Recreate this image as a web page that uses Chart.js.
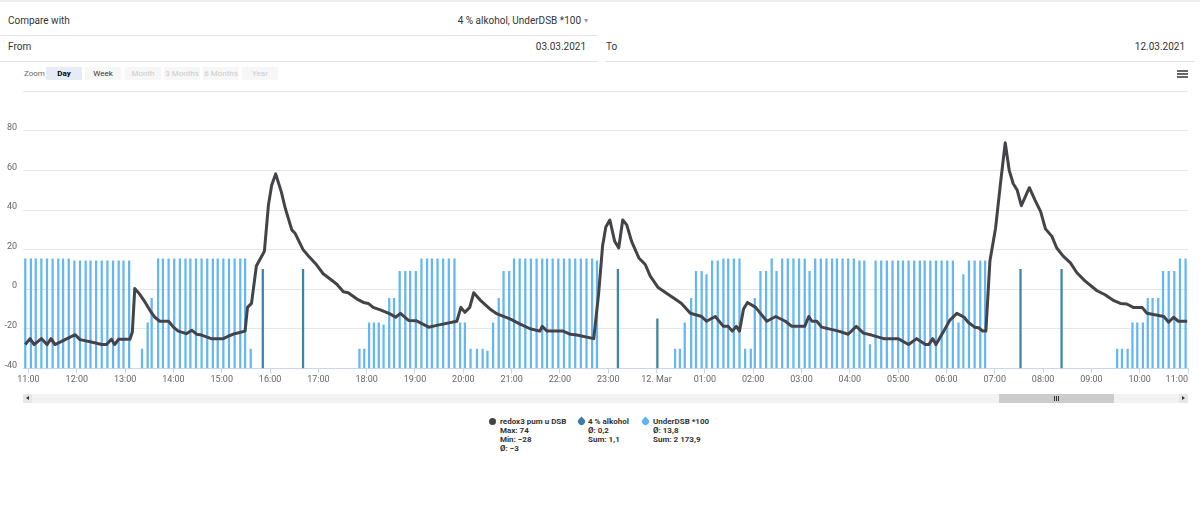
<!DOCTYPE html>
<html>
<head>
<meta charset="utf-8">
<script src="https://cdn.jsdelivr.net/npm/chart.js@4.4.0/dist/chart.umd.min.js"></script>
<style>
  body { margin: 0; width: 1200px; height: 508px; background: #fff; position: relative; overflow: hidden;
         font-family: Roboto, "Noto Sans", sans-serif; color: #333; }
  .abs { position: absolute; white-space: nowrap; }
  .txt { font-size: 10px; line-height: 12px; }
  .sep { position: absolute; height: 1px; background: #e3e3e3; }
  .btn { position: absolute; top: 67px; height: 13px; line-height: 13px; font-size: 8px; text-align: center; background: #f7f7f7; color: #ccc; }
  .leg { position: absolute; font-size: 8px; line-height: 9px; font-weight: bold; color: #333; }
  .drop { position: absolute; width: 7px; height: 7px; border-radius: 50% 0 50% 50%; transform: rotate(-45deg); }
</style>
</head>
<body>
<div class="abs" style="left:0;top:0;width:1200px;height:2px;background:#ededed"></div>

<div class="abs txt" style="left:8px;top:15px">Compare with</div>
<div class="abs txt" style="right:619px;top:15px">4 % alkohol, UnderDSB *100</div>
<div class="abs" style="left:584px;top:16px;font-size:8px;color:#999">&#9662;</div>
<div class="sep" style="left:0;top:35px;width:598px"></div>

<div class="abs txt" style="left:8px;top:41px">From</div>
<div class="abs txt" style="right:614px;top:41px">03.03.2021</div>
<div class="sep" style="left:0;top:61px;width:598px"></div>
<div class="abs txt" style="left:606px;top:41px">To</div>
<div class="abs txt" style="right:15px;top:41px">12.03.2021</div>
<div class="sep" style="left:605px;top:61px;width:590px"></div>

<div class="abs" style="left:24px;top:69px;font-size:8px;color:#666">Zoom</div>
<div class="btn" style="left:46px;width:36px;background:#e6ebf5;color:#000;font-weight:bold">Day</div>
<div class="btn" style="left:85px;width:36px;color:#333">Week</div>
<div class="btn" style="left:125px;width:36px">Month</div>
<div class="btn" style="left:164px;width:36px">3 Months</div>
<div class="btn" style="left:203px;width:36px">6 Months</div>
<div class="btn" style="left:242px;width:36px">Year</div>
<div class="abs" style="left:1177px;top:70px;width:11px;height:2px;background:#666"></div>
<div class="abs" style="left:1177px;top:73px;width:11px;height:2px;background:#666"></div>
<div class="abs" style="left:1177px;top:76px;width:11px;height:2px;background:#666"></div>

<canvas id="chart" width="1200" height="310" style="position:absolute;left:0;top:80px"></canvas>

<!-- navigator scrollbar -->
<div class="abs" style="left:23px;top:394px;width:1165px;height:9px;background:#f2f2f2"></div>
<div class="abs" style="left:23px;top:394px;width:9px;height:9px;background:#e6e6e6"></div>
<div class="abs" style="left:26px;top:396px;width:0;height:0;border-top:2.5px solid transparent;border-bottom:2.5px solid transparent;border-right:3px solid #333"></div>
<div class="abs" style="left:999px;top:394px;width:115px;height:9px;background:#cccccc"></div>
<div class="abs" style="left:1054px;top:396px;width:1px;height:5px;background:#333"></div>
<div class="abs" style="left:1056px;top:396px;width:1px;height:5px;background:#333"></div>
<div class="abs" style="left:1058px;top:396px;width:1px;height:5px;background:#333"></div>
<div class="abs" style="left:1179px;top:394px;width:9px;height:9px;background:#e6e6e6"></div>
<div class="abs" style="left:1182px;top:396px;width:0;height:0;border-top:2.5px solid transparent;border-bottom:2.5px solid transparent;border-left:3px solid #333"></div>

<!-- legend -->
<div class="abs" style="left:489px;top:417.5px;width:7px;height:7px;border-radius:50%;background:#434348"></div>
<div class="leg" style="left:500px;top:416.5px">redox3 pum u DSB<br>Max: 74<br>Min: &minus;28<br>&Oslash;: &minus;3</div>
<div class="drop" style="left:578px;top:418px;background:#3a809f"></div>
<div class="leg" style="left:588px;top:416.5px">4 % alkohol<br>&Oslash;: 0,2<br>Sum: 1,1</div>
<div class="drop" style="left:642px;top:418px;background:#5fb3ef"></div>
<div class="leg" style="left:653px;top:416.5px">UnderDSB *100<br>&Oslash;: 13,8<br>Sum: 2&nbsp;173,9</div>

<script>
var ctx = document.getElementById("chart");

// x values are minutes after 11 Mar 11:00
var hourLabels = ["11:00", "12:00", "13:00", "14:00", "15:00", "16:00", "17:00", "18:00", "19:00",
  "20:00", "21:00", "22:00", "23:00", "12. Mar", "01:00", "02:00", "03:00", "04:00", "05:00",
  "06:00", "07:00", "08:00", "09:00", "10:00", "11:00"];
var yTicks = [-40, -20, 0, 20, 40, 60, 80, 100];

var redoxTimes = [-4, 2, 7, 16, 23, 28, 33, 58, 64, 78, 91, 97, 103, 107, 112, 126, 129, 132, 138, 145,
  151, 157, 163, 174, 180, 186, 196, 203, 209, 215, 227, 242, 248, 256, 269, 272, 277, 283, 293, 298,
  302, 307, 314, 319, 327, 331, 341, 348, 358, 366, 375, 383, 391, 397, 408, 416, 422, 428, 437, 449,
  456, 462, 472, 482, 497, 507, 532, 537, 542, 548, 553, 561, 573, 582, 598, 610, 623, 635, 638, 644,
  664, 673, 681, 702, 708, 713, 717, 722, 728, 733, 738, 743, 749, 758, 766, 772, 782, 791, 803, 811,
  822, 836, 842, 853, 863, 869, 874, 879, 883, 888, 893, 903, 917, 928, 940, 948, 964, 969, 973, 979,
  985, 1006, 1018, 1028, 1037, 1047, 1062, 1080, 1093, 1103, 1114, 1118, 1123, 1127, 1136, 1144, 1153, 1162, 1167, 1175,
  1180, 1185, 1189, 1194, 1201, 1207, 1213, 1218, 1223, 1228, 1233, 1243, 1250, 1257, 1263, 1271, 1277, 1285, 1294, 1302,
  1312, 1327, 1337, 1348, 1356, 1364, 1372, 1383, 1389, 1410, 1416, 1422, 1428, 1439];
var redoxValues = [-28, -25, -28, -25, -28, -25, -28, -23, -25.5, -26.7, -28, -28, -25.3, -28, -25.3, -25.3, -21.7, 0.3, -2.5, -6.7,
  -10.8, -14.2, -16.2, -16.2, -19.2, -21.2, -22.5, -20.8, -22.8, -23.2, -25, -25, -23.8, -22.5, -21.2, -9.2, -7.2, 11.7, 19.2, 42.5,
  52.5, 58.3, 49.2, 40.8, 30, 28.3, 20, 16.7, 12.2, 7.8, 5, 2.5, -1.3, -1.8, -5, -6.7, -7.2, -9.2, -10.5, -12.5,
  -14.2, -12.2, -15.8, -16, -19.2, -18.3, -16.2, -9.2, -11.7, -9.2, -1.8, -5.5, -10, -12.5, -15, -17.5, -20, -21.2, -18.8, -21.2,
  -21.2, -22.8, -23.2, -25, -2.5, 22, 31.5, 35, 24.2, 20.8, 35, 32.5, 24.2, 15.8, 12.5, 6.7, 0.8, -1.7, -5, -7.2,
  -12.2, -13.8, -16.2, -13.8, -18.8, -18.8, -21.2, -18.8, -21.2, -10, -6.7, -9.2, -16.2, -13.8, -16.2, -18.8, -18.8, -13.8, -16.2, -16.2,
  -19.2, -21.2, -22.8, -18.8, -22.2, -23.2, -25, -25, -28, -25, -28, -28, -25, -28, -21.7, -15.8, -12.2, -14.2, -16.7, -19.2,
  -19.5, -21.2, -21.2, 14.2, 30.8, 53, 74, 60, 53.3, 50, 42.2, 51.3, 45, 39.2, 30.5, 26.7, 20.8, 16.7, 13.3, 8.3,
  4.2, -0.8, -2.8, -5.8, -7.2, -7.5, -9.2, -9.2, -12.2, -13.8, -16.7, -14.2, -16.2, -16.2];

var alcTimes = [291, 341, 732, 781, 1232, 1283];
var alcValues = [0.2, 0.2, 0.2, 0.1, 0.2, 0.2];

var underTimes = [
  -4, 3, 9, 16, 23, 30, 37, 43, 50, 57, 64, 71, 77, 84, 91, 98, 105, 112, 118, 125,
  141, 148, 153, 161, 167, 174, 181, 188, 195, 201, 208, 215, 222, 229, 235, 242, 249, 256, 263, 269, 276,
  411, 417, 423, 429, 435, 441, 448, 454, 461, 468, 474, 481,
  488, 495, 501, 508, 515, 522, 529,
  536, 542, 549, 557, 564, 570, 577, 584, 590, 597,
  603, 610, 617, 624, 631, 638, 644, 651, 658, 665, 672, 679, 686, 693, 700, 706,
  803, 809, 815, 823, 829, 836, 842, 849, 856, 863, 869, 876, 883,
  890, 897, 902, 909, 916, 923, 929, 936, 943, 950, 957, 964, 970,
  977, 984, 991, 998, 1004, 1011, 1018, 1025, 1032, 1038, 1045,
  1052, 1059, 1066, 1073, 1080, 1086, 1093, 1100, 1107, 1113, 1120, 1127, 1134, 1141, 1148,
  1155, 1161, 1168, 1175, 1182, 1188,
  1352, 1358, 1365, 1371, 1377, 1384, 1390, 1396, 1403, 1409, 1416, 1423, 1430, 1437];
var underValues = [
  16.6, 16.6, 16.6, 16.6, 16.6, 16.6, 16.6, 16.6, 16.6, 16.3, 16.3, 16.3, 16.3, 16.3, 16.3, 16.3, 16.3, 16.3, 16.3, 16.3,
  2.9, 6.9, 10.6, 16.6, 16.6, 16.6, 16.6, 16.6, 16.6, 16.6, 16.6, 16.6, 16.6, 16.6, 16.6, 16.6, 16.6, 16.6, 16.6, 16.6, 2.9,
  2.9, 2.9, 6.9, 6.9, 6.9, 6.6, 10.6, 10.6, 14.7, 14.7, 14.7, 14.7,
  16.6, 16.6, 16.6, 16.6, 16.6, 16.6, 16.6,
  6.9, 6.9, 2.9, 2.9, 2.9, 2.6, 6.9, 10.6, 14.7, 14.7,
  16.6, 16.6, 16.6, 16.6, 16.6, 16.6, 16.6, 16.6, 16.6, 16.6, 16.6, 16.6, 16.6, 16.6, 16.6, 16.3,
  2.9, 2.9, 6.9, 10.6, 14.7, 14.7, 14.2, 16.3, 16.3, 16.6, 16.6, 16.6, 16.6,
  2.9, 2.9, 10.6, 14.7, 14.7, 16.6, 14.7, 16.6, 16.6, 16.6, 16.6, 16.6, 14.7,
  16.6, 16.6, 16.6, 16.6, 16.6, 16.6, 16.6, 16.6, 16.3, 16.3, 3.6,
  16.3, 16.3, 16.3, 16.3, 16.3, 16.3, 16.3, 16.3, 16.3, 16.3, 16.3, 16.3, 16.3, 16.3, 16.3,
  6.9, 14.2, 16.3, 16.3, 16.3, 16.3,
  2.9, 2.9, 2.9, 6.9, 6.9, 6.9, 10.6, 10.6, 10.6, 14.7, 14.7, 14.7, 16.6, 16.6];

var xMin = -6.8;
var xMax = 1440;

function points(xs, ys) {
  return xs.map(function (x, i) { return { x: x, y: ys[i] }; });
}

var xTicks = [xMin].concat(hourLabels.map(function (l, i) { return i * 60; }));

var myChart = new Chart(ctx, {
  type: "bar",
  data: {
    datasets: [
      {
        type: "line",
        label: "redox3 pum u DSB",
        data: points(redoxTimes, redoxValues),
        borderColor: "#434348",
        borderWidth: 3,
        borderJoinStyle: "round",
        pointRadius: 0,
        tension: 0,
        yAxisID: "y",
        order: 0,
      },
      {
        label: "4 % alkohol",
        data: points(alcTimes, alcValues),
        backgroundColor: "#3f84a2",
        barThickness: 1.6,
        grouped: false,
        yAxisID: "yAlc",
        order: 1,
      },
      {
        label: "UnderDSB *100",
        data: points(underTimes, underValues),
        backgroundColor: "#66b7f1",
        barThickness: 1.6,
        grouped: false,
        yAxisID: "yUnder",
        order: 2,
      },
    ],
  },
  options: {
    responsive: false,
    animation: false,
    layout: { padding: { left: 0, right: 12, top: 8.3, bottom: 0 } },
    plugins: {
      legend: { display: false },
      tooltip: { enabled: false },
    },
    scales: {
      x: {
        type: "linear",
        min: xMin,
        max: xMax,
        offset: false,
        afterBuildTicks: function (s) { s.ticks = xTicks.map(function (v) { return { value: v }; }); },
        afterFit: function (s) { s.height = 21.7; },
        ticks: {
          autoSkip: false,
          maxRotation: 0,
          align: "inner",
          padding: 1,
          color: "#666",
          font: { size: 9, family: "Roboto" },
          callback: function (v, i) { return i === 0 ? "" : hourLabels[i - 1]; },
        },
        grid: {
          offset: false,
          drawOnChartArea: false,
          tickLength: 5,
          tickColor: function (c) { return c.index === 0 ? "rgba(0,0,0,0)" : "#ccd6eb"; },
        },
        border: { color: "#ccd6eb" },
      },
      y: {
        min: yTicks[0],
        max: yTicks[yTicks.length - 1],
        afterFit: function (s) { s.width = 23; },
        ticks: {
          stepSize: 20,
          padding: 6,
          labelOffset: -3,
          color: "#666",
          font: { size: 9, family: "Roboto" },
          callback: function (v) { return v === 100 ? "" : v; },
        },
        grid: { color: "#e6e6e6", drawTicks: false },
        border: { display: false },
      },
      yUnder: { display: false, min: 0, max: 42 },
      yAlc: { display: false, min: 0, max: 0.56 },
    },
  },
});
</script>
</body>
</html>
